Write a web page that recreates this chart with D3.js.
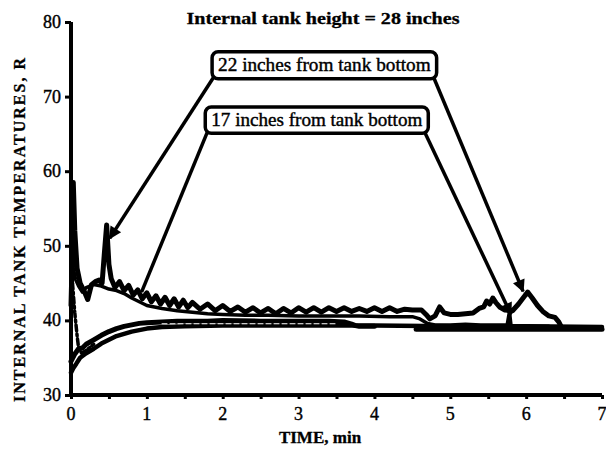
<!DOCTYPE html>
<html>
<head>
<meta charset="utf-8">
<script src="https://cdn.jsdelivr.net/npm/d3@7"></script>
<style>
  body { margin: 0; background: #fff; }
</style>
</head>
<body>
<div id="chart"></div>
<script>
// ---- data (time in min, temperature in R) ----
var xTicks = [0, 1, 2, 3, 4, 5, 6, 7];
var yTicks = [30, 40, 50, 60, 70, 80];

// 22 inches from tank bottom
var t22 = [0, 0.02, 0.03, 0.05, 0.08, 0.12, 0.17, 0.22, 0.27, 0.32, 0.37, 0.41, 0.44, 0.47, 0.5, 0.53, 0.58, 0.64, 0.7, 0.76, 0.82, 0.88, 0.94, 1.0, 1.06, 1.12, 1.18, 1.24, 1.3, 1.36, 1.42, 1.48, 1.54, 1.6, 1.7, 1.8, 1.9, 2.0, 2.1, 2.2, 2.3, 2.4, 2.5, 2.6, 2.7, 2.8, 2.9, 3.0, 3.1, 3.2, 3.3, 3.4, 3.5, 3.6, 3.7, 3.8, 3.9, 4.0, 4.1, 4.2, 4.3, 4.4, 4.5, 4.62, 4.68, 4.73, 4.8, 4.86, 4.92, 5.0, 5.1, 5.2, 5.3, 5.38, 5.44, 5.48, 5.52, 5.56, 5.6, 5.65, 5.72, 5.82, 5.9, 5.96, 6.02, 6.08, 6.15, 6.22, 6.3, 6.38, 6.43, 6.47];
var v22 = [42, 50, 58.5, 52, 47, 45, 44, 42.8, 44.8, 45.2, 45.4, 45, 49, 52.8, 47.5, 45.6, 44.4, 45.2, 44.0, 44.7, 43.4, 44.1, 42.9, 43.7, 42.5, 43.3, 42.2, 43.1, 42.0, 42.9, 41.8, 42.7, 41.7, 42.4, 41.5, 42.2, 41.3, 42.0, 41.2, 41.8, 41.1, 41.7, 41.0, 41.6, 40.9, 41.6, 41.0, 41.7, 41.1, 41.7, 41.1, 41.7, 41.2, 41.7, 41.2, 41.6, 41.2, 41.7, 41.2, 41.7, 41.2, 41.5, 41.4, 41.4, 40.8, 40.2, 40.6, 41.8, 41.0, 40.8, 40.8, 40.9, 41.0, 41.6, 41.8, 42.6, 42.2, 43.0, 42.4, 41.8, 41.4, 41.3, 42.2, 43.0, 43.8, 43.0, 42.0, 41.2, 40.6, 40.4, 39.8, 39.0];

// 17 inches from tank bottom
var t17 = [0.03, 0.06, 0.1, 0.15, 0.2, 0.3, 0.4, 0.5, 0.6, 0.7, 0.8, 0.9, 1.0, 1.1, 1.2, 1.4, 1.6, 1.8, 2.0, 2.3, 2.6, 3.0, 3.4, 3.8, 4.2, 4.5, 4.6, 4.7, 4.8, 5.0, 5.2, 5.4, 5.6, 5.75, 5.78, 5.8, 5.84, 6.0, 6.3];
var v17 = [47, 45.5, 44.6, 43.8, 44.4, 44.8, 44.6, 44.2, 44.0, 43.6, 43.0, 42.5, 42.0, 41.8, 41.6, 41.3, 41.1, 40.9, 40.8, 40.7, 40.7, 40.6, 40.6, 40.6, 40.5, 40.5, 40.2, 39.6, 39.4, 39.4, 39.5, 39.4, 39.4, 39.4, 41.2, 39.4, 39.2, 39.2, 39.2];

// lower sensors
var tLowA = [0, 0.05, 0.1, 0.15, 0.2, 0.3, 0.4, 0.5, 0.6, 0.7, 0.8, 0.9, 1.0, 1.2, 1.4, 1.6, 1.8, 2.0, 2.5, 3.0, 3.4, 3.6, 3.7, 3.75, 3.8, 4.0];
var vLowA = [34.5, 35.5, 36.2, 36.3, 36.8, 37.4, 38.0, 38.5, 38.9, 39.2, 39.4, 39.6, 39.7, 39.8, 39.9, 39.9, 39.9, 40.0, 39.9, 39.9, 39.9, 39.8, 39.5, 39.3, 39.2, 39.2];

var tLowB = [0, 0.03, 0.07, 0.12, 0.2, 0.3, 0.4, 0.5, 0.6, 0.7, 0.8, 0.9, 1.0, 1.2, 1.5, 2.0, 3.0, 4.0, 5.0, 6.0, 7.0];
var vLowB = [33, 33.6, 34.2, 35, 35.6, 36.2, 36.9, 37.4, 37.9, 38.2, 38.5, 38.7, 38.9, 39.1, 39.2, 39.3, 39.3, 39.3, 39.2, 39.2, 39.1];

var tLowC = [4.55, 5.0, 5.5, 6.0, 6.5, 7.0];
var vLowC = [38.8, 38.8, 38.8, 38.8, 38.8, 38.8];

var tDash = [0.02, 0.05, 0.08, 0.1, 0.14, 0.2, 0.3];
var vDash = [45, 41, 38, 36.3, 35.6, 36.0, 36.8];

var tGap = [1.2, 3.5];
var vGap = [39.55, 39.55];

// annotation boxes and arrows, in data units
var boxLabels = ["22 inches from tank bottom", "17 inches from tank bottom"];
var boxT = [[1.86, 4.82], [1.77, 4.71]];
var boxV = [[76.0, 72.4], [68.6, 65.1]];
var arrowFrom = [[1.88, 72.6], [4.78, 72.6], [1.8, 65.3], [4.66, 65.3]];
var arrowTo = [[0.51, 51.0], [5.96, 43.9], [0.93, 43.8], [5.8, 40.8]];
var arrowHead = [true, true, false, true];

var serif = "'Liberation Serif', 'DejaVu Serif', 'Times New Roman', serif";
var width = 606, height = 449;

var x = d3.scaleLinear().domain([0, 7]).range([71, 602]);
var y = d3.scaleLinear().domain([30, 80]).range([395, 22]);

var svg = d3.select("#chart").append("svg")
  .attr("width", width)
  .attr("height", height);

function zip(ts, vs) {
  return ts.map(function(t, i) { return [t, vs[i]]; });
}

var line = d3.line()
  .x(function(d) { return x(d[0]); })
  .y(function(d) { return y(d[1]); });

// series
function drawSeries(ts, vs, w, dash, color) {
  svg.append("path")
    .datum(zip(ts, vs))
    .attr("d", line)
    .attr("fill", "none")
    .attr("stroke", color || "#000")
    .attr("stroke-width", w)
    .attr("stroke-linejoin", "round")
    .attr("stroke-linecap", "round")
    .attr("stroke-dasharray", dash || null);
}

drawSeries(tLowB, vLowB, 4.5);
drawSeries(tLowC, vLowC, 5);
drawSeries(tLowA, vLowA, 5);
drawSeries(tGap, vGap, 1, "5,3", "#fff");
drawSeries(tDash, vDash, 3.5, "6,3,2,3");
drawSeries(t17, v17, 3.5);
drawSeries(t22, v22, 5);

// scanned-looking text: a thin stroke makes the glyphs heavier
function ink(sel, w) {
  return sel.style("font-family", serif)
    .attr("fill", "#000").attr("stroke", "#000").attr("stroke-width", w);
}

// axes
var xAxis = d3.axisBottom(x).tickValues(d3.range(0, 7.01, 0.5)).tickSize(4).tickFormat("");
svg.append("g").attr("transform", "translate(0," + y(30) + ")").call(xAxis)
  .call(function(g) {
    g.select(".domain").attr("stroke-width", 4).attr("d", "M" + x(0) + ",0H" + x(7));
    g.selectAll(".tick line").attr("stroke-width", 3);
  });

svg.selectAll(".xlab").data(xTicks).enter().append("text")
  .attr("x", function(d) { return x(d); })
  .attr("y", 420)
  .attr("text-anchor", "middle")
  .style("font-size", "18px")
  .call(ink, 0.4)
  .text(function(d) { return d; });

var yAxis = d3.axisLeft(y).tickValues(yTicks).tickSize(6).tickFormat("");
svg.append("g").attr("transform", "translate(" + x(0) + ",0)").call(yAxis)
  .call(function(g) {
    g.select(".domain").attr("stroke-width", 4).attr("d", "M0," + y(30) + "V" + y(80));
    g.selectAll(".tick line").attr("stroke-width", 3);
  });

svg.selectAll(".ylab").data(yTicks).enter().append("text")
  .attr("x", 61)
  .attr("y", function(d) { return y(d) + 6; })
  .attr("text-anchor", "end")
  .style("font-size", "18px")
  .call(ink, 0.4)
  .text(function(d) { return d; });

// titles
svg.append("text")
  .attr("x", 323).attr("y", 24)
  .attr("text-anchor", "middle")
  .attr("textLength", 273).attr("lengthAdjust", "spacingAndGlyphs")
  .style("font-size", "17px").style("font-weight", "bold")
  .call(ink, 0.3)
  .text("Internal tank height = 28 inches");

svg.append("text")
  .attr("x", 320).attr("y", 443)
  .attr("text-anchor", "middle")
  .style("font-size", "17px").style("font-weight", "bold")
  .call(ink, 0.3)
  .text("TIME, min");

svg.append("text")
  .attr("transform", "translate(25,230) rotate(-90)")
  .attr("text-anchor", "middle")
  .attr("textLength", 344).attr("lengthAdjust", "spacing")
  .style("font-size", "16px").style("font-weight", "bold")
  .call(ink, 0.3)
  .text("INTERNAL TANK TEMPERATURES, R");

// arrows
svg.append("defs").append("marker")
  .attr("id", "head")
  .attr("viewBox", "0 0 10 10")
  .attr("refX", 9).attr("refY", 5)
  .attr("markerWidth", 4.5).attr("markerHeight", 3.6)
  .attr("markerUnits", "strokeWidth")
  .attr("orient", "auto")
  .append("path").attr("d", "M0,0L10,5L0,10z").attr("fill", "#000");

arrowFrom.forEach(function(a, i) {
  var b = arrowTo[i];
  svg.append("line")
    .attr("x1", x(a[0])).attr("y1", y(a[1]))
    .attr("x2", x(b[0])).attr("y2", y(b[1]))
    .attr("stroke", "#000").attr("stroke-width", 3.5)
    .attr("marker-end", arrowHead[i] ? "url(#head)" : null);
});

// callout boxes
boxLabels.forEach(function(lbl, i) {
  var x0 = x(boxT[i][0]), x1 = x(boxT[i][1]);
  var y0 = y(boxV[i][0]), y1 = y(boxV[i][1]);
  svg.append("rect")
    .attr("x", x0).attr("y", y0)
    .attr("width", x1 - x0).attr("height", y1 - y0)
    .attr("rx", 6).attr("ry", 6)
    .attr("fill", "#fff").attr("stroke", "#000").attr("stroke-width", 3.5);
  svg.append("text")
    .attr("x", (x0 + x1) / 2).attr("y", (y0 + y1) / 2 + 6)
    .attr("text-anchor", "middle")
    .attr("textLength", x1 - x0 - 12).attr("lengthAdjust", "spacingAndGlyphs")
    .style("font-size", "18px")
    .call(ink, 0.4)
    .text(lbl);
});
</script>
</body>
</html>
